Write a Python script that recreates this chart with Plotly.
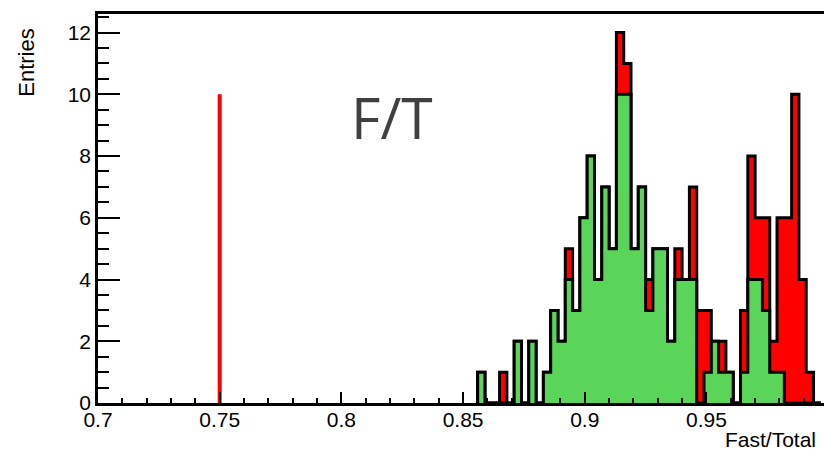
import numpy as np
import plotly.graph_objects as go

# Histogram binning (ROOT style: 0.7..1.0, 100 bins of 0.003); shown bins start at 0.856
first_edge = 0.856
bin_width = 0.003

# Total entries per bin (red, drawn behind)
red_counts = [1, 0, 0, 1, 0, 2, 0, 2, 0, 1, 3, 2, 5, 3, 6, 8, 4, 7, 5, 12, 11, 5, 7, 4,
              5, 5, 2, 5, 4, 7, 3, 3, 2, 2, 1, 0, 3, 8, 6, 6, 2, 6, 6, 10, 4, 1, 0]
# Selected entries per bin (green, drawn on top)
green_counts = [1, 0, 0, 0, 0, 2, 0, 2, 0, 1, 3, 2, 4, 3, 6, 8, 4, 7, 5, 10, 10, 5, 7, 3,
                5, 5, 2, 4, 4, 4, 0, 1, 2, 1, 1, 0, 1, 4, 4, 3, 1, 1, 0, 0, 0, 0, 0]

cut_value = 0.75
cut_height = 10

x_title = "Fast/Total"
y_title = "Entries"
label_text = "F/T"


def step_xy(counts):
    n = len(counts)
    edges = first_edge + bin_width * np.arange(n + 1)
    xs = [edges[0]] + list(edges[:-1]) + [edges[-1], edges[-1]]
    ys = [0] + list(counts) + [counts[-1], 0]
    return xs, ys


fig = go.Figure()
for counts, col in [(red_counts, "#ff0000"), (green_counts, "#5ad55a")]:
    xs, ys = step_xy(counts)
    fig.add_trace(go.Scatter(x=xs, y=ys, mode="lines", line=dict(shape="hv", color="black", width=3),
                             fill="tozeroy", fillcolor=col, hoverinfo="skip"))

fig.add_trace(go.Scatter(x=[cut_value, cut_value], y=[0, cut_height], mode="lines",
                         line=dict(color="#ff0000", width=4), hoverinfo="skip"))

axis_font = dict(family="Liberation Sans, Arial, sans-serif", size=21, color="black")
title_font = dict(family="Liberation Sans, Arial, sans-serif", size=21, color="black")

fig.update_layout(
    width=824, height=451,
    margin=dict(l=98, r=0, t=14, b=48),
    plot_bgcolor="white", paper_bgcolor="white",
    showlegend=False,
    xaxis=dict(range=[0.7, 0.9983], tick0=0.7, dtick=0.05, ticks="inside", ticklen=11,
               tickwidth=2, tickcolor="black", showline=True, linecolor="black", linewidth=2.5,
               mirror=True, showgrid=False, zeroline=False, tickfont=axis_font,
               ticklabelstandoff=-4,
               minor=dict(dtick=0.01, ticks="inside", ticklen=5.5, tickwidth=2, tickcolor="black",
                          showgrid=False)),
    yaxis=dict(range=[0, 12.6], tick0=0, dtick=2, ticks="inside", ticklen=22,
               tickwidth=2, tickcolor="black", showline=True, linecolor="black", linewidth=2.5,
               mirror=False, showgrid=False, zeroline=False, tickfont=axis_font,
               minor=dict(dtick=0.5, ticks="inside", ticklen=11, tickwidth=2, tickcolor="black",
                          showgrid=False)),
    annotations=[
        dict(text=x_title, xref="paper", yref="paper", x=0.992, y=-0.095, xanchor="right",
             yanchor="middle", showarrow=False, font=title_font),
        dict(text=y_title, xref="paper", yref="paper", x=-0.099, y=0.875, xanchor="center",
             yanchor="middle", textangle=-90, showarrow=False,
             font=dict(family="Liberation Sans, Arial, sans-serif", size=22, color="black")),
        dict(text=label_text, xref="x", yref="y", x=0.8208, y=9.25, xanchor="center",
             yanchor="middle", showarrow=False,
             font=dict(family="Open Sans, sans-serif", size=57, color="#404040")),
    ],
)

fig.write_html("out.html")
